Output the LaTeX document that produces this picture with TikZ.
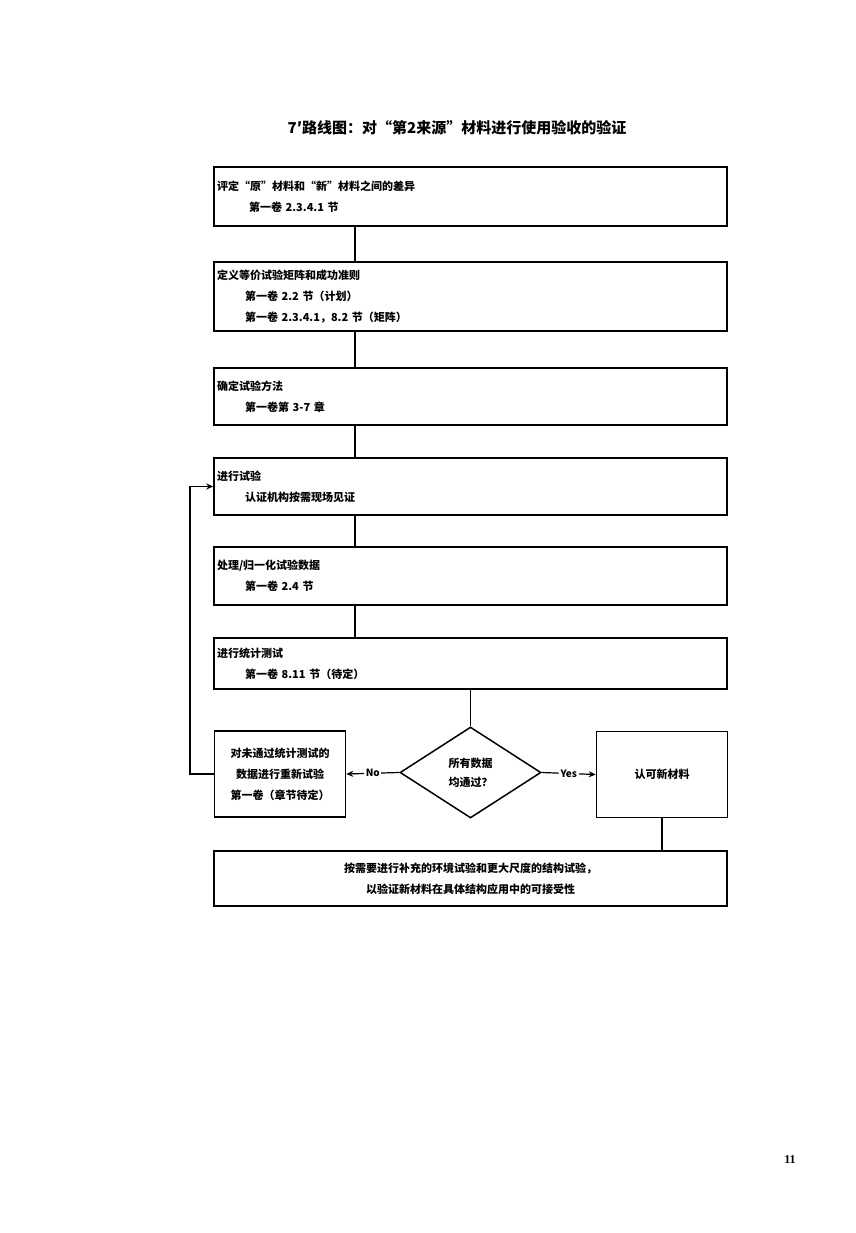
\documentclass[tikz,border=0pt]{standalone}
\usepackage{fontspec}
\setmainfont{Noto Sans CJK SC}
\newfontfamily\pagefont{Liberation Serif}
\usetikzlibrary{shapes.geometric,arrows.meta}

\tikzset{
  stepbox/.style={draw,line width=1.5pt,minimum width=513pt,text width=507pt,align=left,
    inner xsep=3pt,inner ysep=0pt,font=\fontsize{11}{21}\selectfont\bfseries},
  sidebox/.style={draw,line width=1.5pt,minimum width=131pt,minimum height=86pt,align=center,
    inner sep=0pt,font=\fontsize{11}{21}\selectfont\bfseries},
  link/.style={line width=1.2pt},
  tag/.style={fill=white,inner sep=1.5pt,font=\fontsize{10}{12}\selectfont\bfseries}
}

\begin{document}
\begin{tikzpicture}[x=1pt,y=-1pt,>={Stealth[length=7pt,width=6pt]}]
\useasboundingbox (0,0) rectangle (855,1233);
\node[font=\fontsize{15}{18}\selectfont\bfseries] (title) at (457,128) {7′路线图：对“第2来源”材料进行使用验收的验证};

\node[stepbox,minimum height=59pt] (diff) at (470.5,196.5)
  {评定“原”材料和“新”材料之间的差异\\\hspace*{32pt}第一卷 2.3.4.1 节};
\node[stepbox,minimum height=69pt] (matrix) at (470.5,296.5)
  {定义等价试验矩阵和成功准则\\\hspace*{28pt}第一卷 2.2 节（计划）\\\hspace*{28pt}第一卷 2.3.4.1，8.2 节（矩阵）};
\node[stepbox,minimum height=57pt] (method) at (470.5,396.5)
  {确定试验方法\\\hspace*{28pt}第一卷第 3-7 章};
\node[stepbox,minimum height=57pt] (test) at (470.5,486.5)
  {进行试验\\\hspace*{28pt}认证机构按需现场见证};
\node[stepbox,minimum height=58pt] (norm) at (470.5,576)
  {处理/归一化试验数据\\\hspace*{28pt}第一卷 2.4 节};
\node[stepbox,minimum height=51pt] (stat) at (470.5,663.5)
  {进行统计测试\\\hspace*{28pt}第一卷 8.11 节（待定）};

\node[draw,diamond,line width=1.5pt,minimum width=141pt,minimum height=91pt,inner sep=0pt,
  align=center,font=\fontsize{11}{19}\selectfont\bfseries] (pass) at (470.5,772.5)
  {所有数据\\均通过？};
\node[sidebox] (retest) at (280,774) {对未通过统计测试的\\数据进行重新试验\\第一卷（章节待定）};
\node[sidebox] (accept) at (662,774.5) {认可新材料};

\node[stepbox,minimum height=55pt,align=center] (extra) at (470.5,878.5)
  {按需要进行补充的环境试验和更大尺度的结构试验，\\以验证新材料在具体结构应用中的可接受性};

\node[font=\fontsize{12}{14}\selectfont\pagefont\bfseries] (page) at (790,1160) {11};

\coordinate (spine) at (355,0);
\coordinate (loop) at (190,0);

\draw[link] (diff.south -| spine) -- (matrix.north -| spine);
\draw[link] (matrix.south -| spine) -- (method.north -| spine);
\draw[link] (method.south -| spine) -- (test.north -| spine);
\draw[link] (test.south -| spine) -- (norm.north -| spine);
\draw[link] (norm.south -| spine) -- (stat.north -| spine);
\draw[link] (stat.south) -- (pass.north);
\draw[link,->] (pass.west) -- node[tag] {No} (retest.east);
\draw[link,->] (pass.east) -- node[tag] {Yes} (accept.west);
\draw[link,->] (retest.west) -- (retest.west -| loop) |- (test.west);
\draw[link] (accept.south) -- (accept.south |- extra.north);
\end{tikzpicture}
\end{document}
